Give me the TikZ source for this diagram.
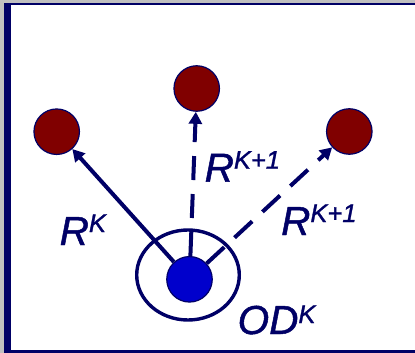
\documentclass[tikz,border=0pt]{standalone}
\usepackage{fontspec}
\setmainfont{Liberation Sans}
\newfontface\lblfont{Liberation Sans Italic}[FakeBold=1.2]
\usetikzlibrary{arrows.meta}
\definecolor{navy}{HTML}{000066}
\definecolor{maroon}{HTML}{800000}
\definecolor{dotblue}{HTML}{0000CC}
\definecolor{paper}{HTML}{C0C0C0}
% large italic symbol with a raised superscript
\newcommand{\symlbl}[3]{{\lblfont\fontsize{40.5}{40}\selectfont #1}\raisebox{#3}{\lblfont\fontsize{25.5}{25}\selectfont #2}}
\begin{document}
\begin{tikzpicture}[x=1pt,y=-1pt,
  target/.style={circle,draw=navy,line width=1.2pt,fill=maroon,minimum size=45.5pt,inner sep=0pt},
  source/.style={circle,draw=navy,line width=1.2pt,fill=dotblue,minimum size=45.5pt,inner sep=0pt},
  ray/.style={draw=navy,line width=4pt,-{Triangle[width=13pt,length=12pt]}},
  nextray/.style={ray,dash pattern=on 24pt off 14pt},
  lbl/.style={text=navy,inner sep=0pt,anchor=base west}]
  \useasboundingbox (0,0) rectangle (415,353);
  % page and frame
  \fill[paper] (0,0) rectangle (415,353);
  \fill[white] (4,3.5) rectangle (415,353);
  \fill[navy] (4,3.5) rectangle (11,353);
  \fill[navy] (4,3.5) rectangle (415,5.2);
  \fill[navy] (4,349.8) rectangle (415,353);
  % range ellipse around the source
  \draw[navy,line width=3.4pt] (188,275) ellipse [x radius=51.3,y radius=45];
  % nodes
  \node[target] (left) at (56.7,131.7) {};
  \node[target] (top) at (196.7,88.5) {};
  \node[target] (right) at (349.3,131.5) {};
  \node[source] (src) at (189.5,279.3) {};
  % rays
  \draw[ray] (src) -- (left);
  \draw[nextray] (src) -- (top);
  \draw[nextray] (src) -- (right);
  % labels
  \node[lbl] (lk) at (59.5,245) {\symlbl{R}{K}{13pt}};
  \node[lbl] (lt) at (204.5,181.7) {\symlbl{R}{K+1}{13pt}};
  \node[lbl] (lr) at (281,235) {\symlbl{R}{K+1}{13pt}};
  \node[lbl] (lod) at (237.5,334) {\symlbl{OD}{K}{11pt}};
\end{tikzpicture}
\end{document}
